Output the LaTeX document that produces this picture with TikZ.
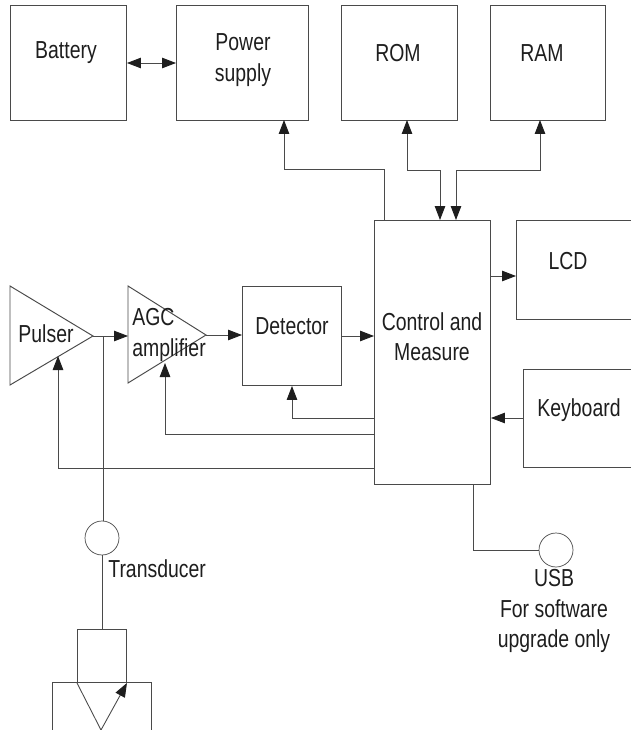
\documentclass[tikz,border=0pt]{standalone}
\usepackage{fontspec}
\setmainfont[FakeStretch=0.79]{Liberation Sans}
\usetikzlibrary{arrows.meta,positioning,calc,shapes.geometric}
\definecolor{Ink}{HTML}{1E1E1E}
\definecolor{Edge}{HTML}{4A4A4A}
\tikzset{
  block/.style={draw=Edge,line width=0.55pt,rectangle,inner sep=0pt},
  port/.style={draw=Edge,line width=0.4pt,circle,inner sep=0pt,minimum size=0.68cm},
  caption/.style={font=\fontsize{14}{17.2}\selectfont,text=Ink,align=center,inner sep=0pt},
  arr/.style={-{Triangle[length=2.8mm,width=2.1mm,color=Ink]},draw=Edge,line width=0.5pt},
  twoway/.style={{Triangle[length=2.8mm,width=2.1mm,color=Ink]}-{Triangle[length=2.8mm,width=2.1mm,color=Ink]},draw=Edge,line width=0.5pt},
  wire/.style={draw=Edge,line width=0.5pt}
}
\newcommand{\blockat}[5]{\node[block,minimum width=#4*0.02cm,minimum height=#5*0.02cm,anchor=north west] (#1) at (#2,#3) {};}
\begin{document}
\begin{tikzpicture}[x=0.02cm,y=-0.02cm]
  \useasboundingbox (0,0) rectangle (631,730);
  % top row
  \blockat{battery}{10}{5}{116}{115}
  \blockat{power}{176}{5}{132}{115}
  \blockat{rom}{341}{5}{116}{115}
  \blockat{ram}{490}{5}{115}{115}
  % middle row
  \blockat{control}{374}{220}{116}{264}
  \blockat{lcd}{516}{220}{130}{99}
  \blockat{keyboard}{523}{369}{130}{98}
  \blockat{detector}{242}{286}{99}{99}
  \blockat{probe}{77}{629}{49}{53}
  \blockat{wedge}{52}{682}{99}{60}
  \node[port] (transport) at (102,538) {};
  \node[port] (usbport) at (556,550) {};
  % amplifier triangles
  \coordinate (pulsertip) at (93,336);
  \coordinate (agctip) at (206,335);
  \coordinate (pulserin) at (58,356);
  \coordinate (agcin) at (165,363);
  \coordinate (wedgetip) at (101,730);
  \draw[block] (10,286) -- (pulsertip) -- (10,385) -- cycle;
  \draw[block] (128,286) -- (agctip) -- (128,383) -- cycle;
  % texts
  \node[caption] (batterytext) at (66,53) {Battery};
  \node[caption] (powertext) at (243,60) {Power\\supply};
  \node[caption] (romtext) at (398,53) {ROM};
  \node[caption] (ramtext) at (542,53) {RAM};
  \node[caption] (lcdtext) at (568,261) {LCD};
  \node[caption] (controltext) at (432,337) {Control and\\Measure};
  \node[caption] (keyboardtext) at (579,410) {Keyboard};
  \node[caption] (detectortext) at (292,326) {Detector};
  \node[caption] (pulsertext) at (46,334) {Pulser};
  \node[caption,anchor=west] (agctext) at (132,317) {AGC};
  \node[caption,anchor=west] (amptext) at (132,350) {amplifier};
  \node[caption,anchor=west] (transtext) at (108,569) {Transducer};
  \node[caption] (usbtext) at (554,611) {USB\\For software\\upgrade only};
  % branch points
  \coordinate (pulserjoint) at (103,336);
  \coordinate (powerin) at (284,120);
  \coordinate (romin) at (407,120);
  \coordinate (ramin) at (540,120);
  \coordinate (romout) at (440,220);
  \coordinate (ramout) at (456,220);
  \coordinate (powerout) at (384,220);
  \coordinate (usbout) at (473,484);
  % connectors
  \draw[twoway] (battery.east |- 0,63) -- (power.west |- 0,63);
  \draw[arr] (pulsertip) -- (128,336);
  \draw[arr] (agctip) -- (agctip -| detector.west);
  \draw[arr] (detector.east |- 0,336) -- (control.west |- 0,336);
  \draw[arr] (control.east |- 0,276) -- (lcd.west |- 0,276);
  \draw[arr] (keyboard.west |- 0,418) -- (control.east |- 0,418);
  \draw[arr] (control.west |- 0,418) -| (detector.south);
  \draw[arr] (control.west |- 0,434) -| (agcin);
  \draw[arr] (control.west |- 0,468) -| (pulserin);
  \draw[arr] (powerout) |- (284,169) -- (powerin);
  \draw[twoway] (romin) |- (440,170) -- (romout);
  \draw[twoway] (ramin) |- (456,170) -- (ramout);
  \draw[wire] (pulserjoint) -- (pulserjoint |- transport.north);
  \draw[wire] (transport.south) -- (transport.south |- probe.north);
  \draw[wire] (usbout) |- (usbport.west);
  \draw[wire] (probe.south west) -- (wedgetip);
  \draw[arr] (wedgetip) -- (probe.south east);
\end{tikzpicture}
\end{document}
